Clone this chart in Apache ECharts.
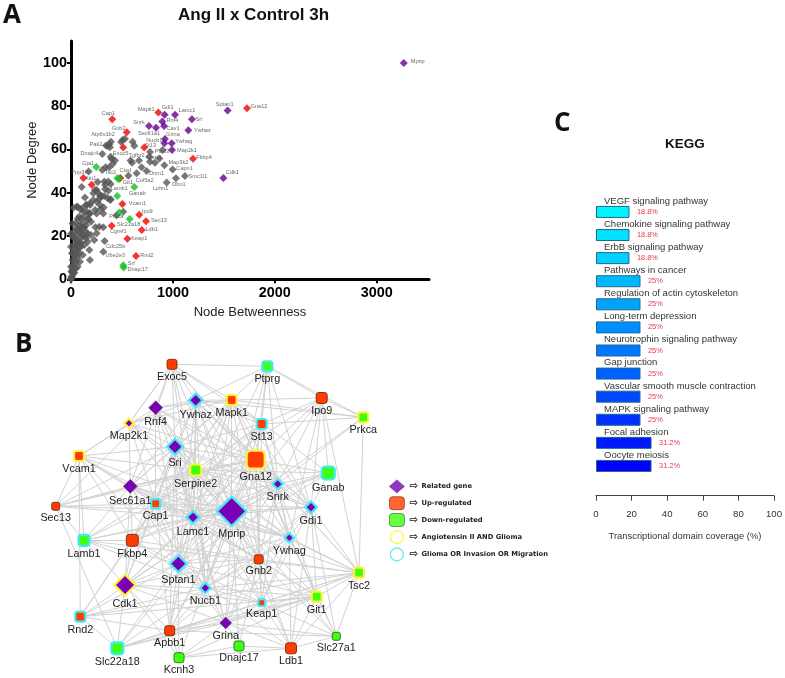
<!DOCTYPE html>
<html><head><meta charset="utf-8">
<style>html,body{margin:0;padding:0;background:#fff}#c{width:785px;height:678px}</style>
<script src="https://cdn.jsdelivr.net/npm/echarts@6/dist/echarts.min.js"></script>
</head><body><div id="c"></div>
<script>
// ---------- Panel A data: [name, betweenness, degree]
const relatedPoints = [['Mprip',3265,99.9],['Sptan1',1537,77.9],['Cdk1',1495,46.8],['Gdi1',919,75.9],['Lamc1',1021,75.9],['Sri',1187,73.9],['Rnf4',896,72.8],['Snrk',765,70.8],['Cav1',913,70.8],['Sec61a1',834,69.9],['Ywhaz',1151,68.8],['Grina',922,64.8],['Nucb1',916,62.8],['Ywhag',988,62.8],['Map2k1',991,59.7]];
const upPoints = [['Gna12',1727,79],['Mapk1',857,77],['Cap1',405,73.9],['Gnb2',547,67.9],['',513,60.8],['St13',719,60.8],['Fkbp4',1197,55.7],['Ppp3r1',121,46.8],['Akt1',203,43.7],['',484,46.8],['Vcam1',504,34.8],['Ipo9',670,29.8],['Sec13',736,26.8],['Slc22a18',399,24.7],['Ldb1',694,22.8],['Keap1',553,18.7],['Rnd2',638,10.8]];
const downPoints = [['Gja1',248,51.8],['Tsc2',455,46.8],['Git1',470,46.2],['Ganab',621,42.6],['Lamb1',454,38.5],['Prkca',474,30.8],['',576,27.8],['Srf',513,6.5],['Dnajc17',517,5.5]];
const namedOtherPoints = [['Atp6v1b2',392,63.5],['Pak2',343,61.8],['Dnajc4',307,57.8],['Exoc5',389,56.6],['Tgfbr2',585,54.8],['Plod3',775,58.8],['Mast1',775,54.3],['Map3k2',916,52.7],['Capn1',997,50.7],['Smc1l1',1118,47.7],['Dbn1',1030,46.7],['Lphn1',939,44.7],['Col5a2',644,48.9],['Dnm1',742,50],['Ctsd',563,47.8],['Cgref1',317,24],['Cdc25b',330,17.7],['Ube2e3',317,12.7]];
const otherPoints = [[376,62.3],[360,61.5],[383,60.9],[507,64.3],[530,64.9],[491,63.4],[605,63.5],[621,61.7],[399,55.5],[432,54.8],[409,53.2],[376,51.7],[340,51.7],[307,50.4],[599,53.8],[667,54.8],[769,56.6],[899,59.7],[824,53.8],[867,55.8],[693,51.7],[173,49.8],[105,42.6],[262,44.9],[219,39.7],[252,41.2],[334,43.5],[334,41.7],[389,44],[285,38.4],[389,36.9],[252,35.8],[285,34.3],[137,37.8],[187,34.3],[154,34.3],[56,33.5],[23,33],[88,32.4],[121,31.2],[236,32],[317,30.4],[187,30.4],[170,28],[513,31.2],[448,29.6],[327,45.1],[366,45.1],[235,41.2],[271,39.7],[301,38.4],[366,40.9],[327,38.4],[278,37.1],[360,37.4],[386,36.6],[186,35.1],[147,34.3],[219,36.6],[321,33.2],[288,32.3],[252,30.4],[157,31.2],[108,32.7],[65,33.5],[186,8.9],[252,21.2],[278,24.3],[239,24],[196,26.6],[164,27.4],[147,25],[115,23.5],[82,22],[49,20.4],[33,18.9],[196,20.4],[229,18.1],[164,17.3],[131,15.8],[180,13.5],[98,19.7],[131,19.7],[147,22],[98,15],[65,15.8],[49,13.5],[33,11.2],[82,12],[115,11.2],[16,8.9],[49,8.1],[88,8.1],[0,5.8],[33,5],[65,5.8],[5,3.5],[23,2.7],[3,1.2],[10,1.2],[1,0.3],[0,0],[180,30.4],[49,23.5],[16,19.7],[0,15],[10,12],[49,18.1],[98,24.3],[131,28.9],[0,21],[16,25.8],
 [33,16],[49,16],[65,18],[82,17],[98,17],[16,12],[33,14],[49,11],[65,10],[16,6],[33,8],[10,4],[16,3],[33,3],[49,5],[65,13],[82,15],[98,22],[115,20],[115,26],[82,25],[65,23],[49,26],[33,22],[131,24],[147,19],[164,21],[98,28],[65,28],[82,29]];
const axisATicksX = [0,1000,2000,3000];
const axisATicksY = [0,20,40,60,80,100];

// ---------- Panel B data
const relatedGenes = ['Ywhaz','Rnf4','Map2k1','Sri','Sec61a1','Snrk','Lamc1','Sptan1','Cdk1','Nucb1','Mprip','Gdi1','Ywhag','Grina'];
const upGenes = ['Exoc5','Vcam1','Sec13','Cap1','Mapk1','Ipo9','St13','Gna12','Fkbp4','Rnd2','Apbb1','Gnb2','Keap1','Ldb1'];
const downGenes = ['Serpine2','Ptprg','Prkca','Ganab','Lamb1','Slc22a18','Kcnh3','Tsc2','Git1','Dnajc17','Slc27a1'];
const angGliomaGenes = ['Map2k1','Serpine2','Vcam1','Mapk1','Prkca','Gna12','Cdk1','Tsc2','Git1'];
const gliomaGenes = ['Ywhaz','Sri','Cap1','Ptprg','St13','Ganab','Snrk','Lamc1','Lamb1','Sptan1','Nucb1','Rnd2','Slc22a18','Mprip','Gdi1','Ywhag','Keap1'];
const layoutPlace = {Exoc5:[172,364.3],Ywhaz:[195.7,400.3],Rnf4:[155.7,407.7],Map2k1:[129,423.3],Sri:[175,446.7],Serpine2:[195.7,470],Vcam1:[79,456],Sec61a1:[130.3,486.3],Sec13:[55.7,506.3],Cap1:[155.7,503.7],Ptprg:[267.3,366.3],Mapk1:[231.7,400],Ipo9:[321.7,398],Prkca:[363.3,417.3],St13:[261.7,424],Gna12:[255.7,459.7],Ganab:[328.3,473],Snrk:[277.7,484],Lamc1:[193,517.3],Lamb1:[84,540.3],Fkbp4:[132.3,540.3],Sptan1:[178.3,563.7],Cdk1:[125,585],Nucb1:[205.3,588],Rnd2:[80.3,616.7],Apbb1:[169.7,630.7],Slc22a18:[117.3,648.3],Kcnh3:[179,657.7],Mprip:[231.7,511.3],Gdi1:[311,507.3],Ywhag:[289.3,537.7],Gnb2:[258.7,559.3],Tsc2:[359,572.7],Git1:[316.7,596.7],Keap1:[261.7,602.7],Grina:[225.7,623],Dnajc17:[239,646],Ldb1:[291,648.3],Slc27a1:[336.3,636.3]};
const nodeWeight = {Exoc5:10,Ywhaz:13,Rnf4:13,Map2k1:9,Sri:15,Serpine2:9,Vcam1:8,Sec61a1:13,Sec13:8,Cap1:7,Ptprg:8,Mapk1:8,Ipo9:11,Prkca:8,St13:8,Gna12:16,Ganab:11,Snrk:10,Lamc1:12,Lamb1:9,Fkbp4:12,Sptan1:16,Cdk1:20,Nucb1:10,Rnd2:8,Apbb1:10,Slc22a18:10,Kcnh3:10,Mprip:28,Gdi1:11,Ywhag:9,Gnb2:9,Tsc2:8,Git1:8,Keap1:5,Grina:11,Dnajc17:10,Ldb1:11,Slc27a1:8};
const interactions = {
 Exoc5:['Ptprg','Mapk1','Ywhaz','Rnf4','Map2k1','Sri','Serpine2','Mprip','Lamc1','St13','Gna12','Snrk','Sec61a1'],
 Ptprg:['Mapk1','St13','Ipo9','Ywhaz','Gna12','Snrk','Gdi1','Mprip','Prkca','Lamc1'],
 Ipo9:['Mapk1','St13','Prkca','Gna12','Ganab','Snrk','Gdi1','Tsc2','Mprip','Ywhag','Cap1'],
 Prkca:['St13','Mapk1','Tsc2','Mprip','Snrk','Ywhaz'],
 Map2k1:['Vcam1','Sec61a1','Sri','Mprip','Cap1','Ywhaz','Mapk1','Lamc1','Serpine2','Exoc5','Gna12'],
 Vcam1:['Sec13','Sec61a1','Sri','Cap1','Lamb1','Mprip','Lamc1','Rnf4','Fkbp4','Serpine2','Rnd2','Sptan1'],
 Sec13:['Slc22a18','Sec61a1','Cap1','Mprip','Sri','Lamc1','Rnf4','Lamb1','Serpine2','Gna12'],
 Rnf4:['Ywhaz','Sri','Mprip','Gna12','Serpine2','Lamc1','Mapk1','Snrk','Sptan1','Cap1'],
 Ywhaz:['Mapk1','St13','Sri','Mprip','Gna12','Serpine2','Lamc1','Snrk','Gdi1','Sptan1','Cap1','Sec61a1','Ywhag','Gnb2','Nucb1'],
 Mapk1:['St13','Sri','Mprip','Gna12','Serpine2','Lamc1','Snrk','Gdi1','Sptan1','Cap1','Sec61a1','Ywhag','Gnb2','Ganab','Fkbp4','Nucb1'],
 St13:['Gna12','Mprip','Sri','Snrk','Serpine2','Lamc1','Gnb2','Gdi1','Cap1','Sptan1','Ywhag','Fkbp4'],
 Sri:['Serpine2','Gna12','Mprip','Cap1','Sec61a1','Lamc1','Snrk','Gdi1','Sptan1','Nucb1','Ywhag','Gnb2','Fkbp4','Cdk1','Apbb1','Keap1','Grina'],
 Serpine2:['Gna12','Mprip','Cap1','Sec61a1','Lamc1','Snrk','Gdi1','Sptan1','Nucb1','Ywhag','Gnb2','Ganab','Lamb1'],
 Gna12:['Mprip','Cap1','Sec61a1','Lamc1','Snrk','Gdi1','Sptan1','Nucb1','Ywhag','Gnb2','Fkbp4','Cdk1','Ganab','Apbb1','Git1','Keap1','Grina','Tsc2'],
 Ganab:['Mprip','Snrk','Gdi1','Lamc1','Sptan1'],
 Snrk:['Mprip','Gdi1','Ywhag','Gnb2','Lamc1','Sptan1','Cap1','Nucb1','Tsc2','Git1','Keap1'],
 Sec61a1:['Cap1','Mprip','Lamc1','Sptan1','Fkbp4','Lamb1','Nucb1','Cdk1','Gnb2','Ywhag'],
 Cap1:['Mprip','Lamc1','Lamb1','Fkbp4','Sptan1','Cdk1','Nucb1','Gnb2','Rnd2','Gdi1','Ywhag','Apbb1'],
 Mprip:['Lamc1','Gdi1','Ywhag','Gnb2','Sptan1','Nucb1','Fkbp4','Lamb1','Cdk1','Tsc2','Git1','Keap1','Grina','Apbb1','Ldb1','Slc27a1','Dnajc17','Kcnh3','Slc22a18','Rnd2'],
 Lamc1:['Gdi1','Sptan1','Nucb1','Gnb2','Fkbp4','Lamb1','Ywhag','Cdk1','Apbb1','Keap1','Grina','Git1','Tsc2'],
 Gdi1:['Ywhag','Tsc2','Git1','Slc27a1','Gnb2','Ldb1','Nucb1','Keap1'],
 Ywhag:['Gnb2','Tsc2','Git1','Slc27a1','Ldb1','Nucb1','Sptan1','Grina','Keap1'],
 Lamb1:['Fkbp4','Sptan1','Nucb1','Tsc2','Cdk1'],
 Fkbp4:['Cdk1','Sptan1','Nucb1','Rnd2','Gnb2'],
 Sptan1:['Cdk1','Nucb1','Gnb2','Apbb1','Slc22a18','Kcnh3','Grina','Keap1','Git1','Ldb1','Rnd2'],
 Cdk1:['Nucb1','Apbb1','Slc22a18','Keap1','Grina','Gnb2','Kcnh3'],
 Nucb1:['Gnb2','Apbb1','Slc22a18','Grina','Keap1','Git1','Rnd2','Tsc2'],
 Gnb2:['Tsc2','Git1','Keap1','Grina','Apbb1','Ldb1','Slc27a1','Dnajc17'],
 Rnd2:['Apbb1','Tsc2','Slc22a18','Git1'],
 Apbb1:['Slc22a18','Kcnh3','Git1','Keap1','Grina','Tsc2','Slc27a1'],
 Slc22a18:['Git1','Grina','Keap1'],
 Kcnh3:['Grina','Dnajc17','Git1','Ldb1'],
 Tsc2:['Git1','Keap1','Grina','Ldb1','Slc27a1'],
 Git1:['Keap1','Grina','Ldb1','Slc27a1'],
 Keap1:['Grina','Ldb1','Slc27a1'],
 Grina:['Dnajc17','Ldb1','Slc27a1'],
 Dnajc17:['Ldb1'],
 Ldb1:['Slc27a1']
};
const legendNames = ['Related gene','Up-regulated','Down-regulated','Angiotensin II AND Glioma','Glioma OR Invasion OR Migration'];

// ---------- Panel C data
const pathways = ['VEGF signaling pathway','Chemokine signaling pathway','ErbB signaling pathway','Pathways in cancer','Regulation of actin cytoskeleton','Long-term depression','Neurotrophin signaling pathway','Gap junction','Vascular smooth muscle contraction','MAPK signaling pathway','Focal adhesion','Oocyte meiosis'];
const coverage = [18.8,18.8,18.8,25,25,25,25,25,25,25,31.2,31.2];
const coverageTicks = [0,20,40,60,80,100];

// ---------- Styling tables (not data)
const barColors = ['#00f4ff','#00e2ff','#00d0ff','#00baff','#00a4ff','#008eff','#0078ff','#0060ff','#0048ff','#0030ff','#0018ff','#0000ff'];
const labelOffset = {Mprip:[14,-1],Sptan1:[-3,-6],Cdk1:[9,-5],Gdi1:[3,-7],Lamc1:[12,-4],Sri:[7,0],Rnf4:[10,-1],Snrk:[-10,-3],Cav1:[9,3],Sec61a1:[-7,6],Ywhaz:[14,0],Grina:[8,-4],Nucb1:[-10,-3],Ywhag:[12,-2],Map2k1:[15,0],
 Gna12:[12,-2],Mapk1:[-12,-3],Cap1:[-4,-6],Gnb2:[-8,-4],St13:[6,-2],Fkbp4:[11,-1],Ppp3r1:[-3,-5],Akt1:[-1,-6],Vcam1:[15,0],Ipo9:[8,-3],Sec13:[13,-1],Slc22a18:[17,-1],Ldb1:[10,0],Keap1:[12,0],Rnd2:[11,0],
 Gja1:[-8,-4],Tsc2:[-7,-5],Git1:[9,3],Ganab:[3,6],Lamb1:[2,-7],Prkca:[-3,4],Srf:[8,-2],Dnajc17:[14,2],
 Atp6v1b2:[-8,-7],Pak2:[-10,-1],Dnajc4:[-13,-1],Exoc5:[10,-3],Tgfbr2:[6,-5],Plod3:[12,0],Mast1:[4,-4],Map3k2:[14,-3],Capn1:[12,-1],Smc1l1:[13,0],Dbn1:[3,6],Lphn1:[-6,6],Col5a2:[8,7],Dnm1:[10,2],Ctsd:[-3,-5],Cgref1:[15,4],Cdc25b:[11,5],Ube2e3:[12,4]};
const SANS = '"Liberation Sans", Arial, sans-serif';
const PURPLE = '#7a00b8', RED = '#ff3d00', GREEN = '#3dff10', YELLOW = '#fff23a', CYAN = '#45e8f5';

function pointData(rows){
  return rows.map(r=>{
    const off = labelOffset[r[0]];
    return {name:r[0],value:[r[1],r[2]],label: off ? {show:true,position:'inside',offset:off,formatter:r[0],fontSize:5.6,color:'#444',fontFamily:SANS}:{show:false}};
  });
}
function nodeStyle(name){
  const rel = relatedGenes.includes(name), up = upGenes.includes(name);
  const fill = rel?PURPLE:up?RED:GREEN;
  const ring = angGliomaGenes.includes(name)?YELLOW:gliomaGenes.includes(name)?CYAN:null;
  const dark = rel?'#5a3a6a':up?'#7a2a10':'#2a6a20';
  return {color:fill,borderColor:ring||dark,borderWidth:ring?2.2:0.9};
}
const graphNodes = Object.keys(layoutPlace).map(name=>{
  const rel = relatedGenes.includes(name), w = nodeWeight[name]||8;
  return {name,value:layoutPlace[name],symbol:rel?'diamond':'roundRect',
    symbolSize:rel?w*1.05:w+ (angGliomaGenes.includes(name)||gliomaGenes.includes(name)?2:0),
    itemStyle:nodeStyle(name),
    label:{show:true,position:'bottom',distance:1.5,fontSize:10.8,color:'#222',fontFamily:SANS}};
});
const graphLinks = [];
Object.keys(interactions).forEach(s=>interactions[s].forEach(t=>graphLinks.push({source:s,target:t})));

function scatter(name,data,color,z,size){
  return {name,type:'scatter',xAxisIndex:0,yAxisIndex:0,data,symbol:'diamond',symbolSize:size||8,z,
    itemStyle:{color},silent:true};
}
const letterStyle = {fontSize:26,fontWeight:'bold',color:'#111',fontFamily:'"Open Sans"'};
const option = {
  animation:false,
  backgroundColor:'#fff',
  textStyle:{fontFamily:SANS},
  title:[
    {text:'A',left:3,top:3,padding:0,textStyle:letterStyle},
    {text:'B',left:15,top:332,padding:0,textStyle:letterStyle},
    {text:'C',left:554,top:111,padding:0,textStyle:letterStyle},
    {text:'Ang II x Control 3h',left:178,top:7,padding:0,textStyle:{fontSize:17,fontWeight:'bold',color:'#111',fontFamily:SANS}},
    {text:'KEGG',left:665,top:137,padding:0,textStyle:{fontSize:13.5,fontWeight:'bold',color:'#111',fontFamily:SANS}}
  ],
  legend:{
    left:389,top:479.5,padding:0,orient:'vertical',itemWidth:15,itemHeight:13,itemGap:3,selectedMode:false,
    formatter:n=>'{a|⇨} {b|'+n+'}',
    textStyle:{rich:{a:{fontSize:10.5,fontWeight:'bold',color:'#222',fontFamily:'"DejaVu Sans"'},b:{fontSize:6.75,fontWeight:'bold',color:'#222',fontFamily:'"DejaVu Sans"'}}},
    data:[
      {name:legendNames[0],icon:'diamond',itemStyle:{color:PURPLE,borderColor:'#5a3a6a',borderWidth:0.8}},
      {name:legendNames[1],icon:'roundRect',itemStyle:{color:RED,borderColor:'#7a2a10',borderWidth:0.8}},
      {name:legendNames[2],icon:'roundRect',itemStyle:{color:GREEN,borderColor:'#2a6a20',borderWidth:0.8}},
      {name:legendNames[3],icon:'circle',itemStyle:{color:'#fff',borderColor:YELLOW,borderWidth:1.4}},
      {name:legendNames[4],icon:'circle',itemStyle:{color:'#fff',borderColor:CYAN,borderWidth:1.4}}
    ]
  },
  grid:[
    {left:71,top:41,width:358,height:238.3},
    {left:0,top:0,width:785,height:678},
    {left:596,top:200.4,width:178.3,height:277.1}
  ],
  xAxis:[
    {type:'value',gridIndex:0,min:0,max:3513,splitLine:{show:false},
     name:'Node Betweenness',nameLocation:'middle',nameGap:27,nameTextStyle:{fontSize:13,color:'#222',fontFamily:SANS},
     axisLine:{show:true,lineStyle:{color:'#000',width:3}},
     axisTick:{show:true,length:4,lineStyle:{color:'#000',width:2},customValues:axisATicksX},
     axisLabel:{customValues:axisATicksX,formatter:v=>String(v),margin:7,fontSize:14.4,fontWeight:'bold',color:'#000',fontFamily:SANS,hideOverlap:false}},
    {type:'value',gridIndex:1,min:0,max:785,show:false,splitLine:{show:false}},
    {type:'value',gridIndex:2,min:0,max:100,interval:20,splitLine:{show:false},offset:18.2,
     name:'Transcriptional domain coverage (%)',nameLocation:'middle',nameGap:36,nameTextStyle:{fontSize:9.4,color:'#333',fontFamily:SANS},
     axisLine:{show:true,lineStyle:{color:'#444',width:1}},
     axisTick:{show:true,length:5,lineStyle:{color:'#444',width:1}},
     axisLabel:{customValues:coverageTicks,formatter:v=>String(v),margin:14,fontSize:9.6,color:'#333',fontFamily:SANS}}
  ],
  yAxis:[
    {type:'value',gridIndex:0,min:0,max:110,splitLine:{show:false},
     name:'Node Degree',nameLocation:'middle',nameGap:28,nameTextStyle:{fontSize:13,color:'#222',fontFamily:SANS},
     axisLine:{show:true,lineStyle:{color:'#000',width:3}},
     axisTick:{show:true,length:4,lineStyle:{color:'#000',width:2},customValues:axisATicksY},
     axisLabel:{customValues:axisATicksY,formatter:v=>String(v),margin:4,fontSize:14.4,fontWeight:'bold',color:'#000',fontFamily:SANS}},
    {type:'value',gridIndex:1,min:0,max:678,inverse:true,show:false,splitLine:{show:false}},
    {type:'category',gridIndex:2,data:pathways,inverse:true,
     axisLine:{show:false},axisTick:{show:false},
     axisLabel:{show:true,interval:0,inside:true,margin:8,align:'left',verticalAlign:'bottom',lineHeight:21.5,fontSize:9.5,color:'#333',fontFamily:SANS},z:5}
  ],
  series:[
    scatter('Other',pointData(namedOtherPoints).concat(otherPoints.map(p=>({value:p}))),'#555',2),
    scatter('Up',pointData(upPoints),'#f40000',3),
    scatter('Related',pointData(relatedPoints),'#65008f',3),
    scatter('Down',pointData(downPoints),'#10c020',3),
    {type:'graph',name:'Network',coordinateSystem:'cartesian2d',xAxisIndex:1,yAxisIndex:1,layout:'none',silent:true,z:4,
     roam:false,data:graphNodes,links:graphLinks,edgeSymbol:['none','none'],
     lineStyle:{color:'#d2d2d2',width:1,opacity:1,curveness:0}},
    {type:'bar',name:'Coverage',xAxisIndex:2,yAxisIndex:2,barWidth:12,silent:true,z:4,
     data:coverage.map((v,i)=>({value:v,itemStyle:{color:barColors[i],borderColor:'#1f6a8e',borderWidth:1}})),
     label:{show:true,position:'right',distance:7.5,formatter:p=>p.value+'%',fontSize:7.4,color:'#e8374a',fontFamily:SANS}},
    ...legendNames.map(n=>({type:'scatter',name:n,xAxisIndex:1,yAxisIndex:1,data:[]}))
  ]
};
const chart = echarts.init(document.getElementById('c'),null,{renderer:'canvas'});
chart.setOption(option);
</script></body></html>
